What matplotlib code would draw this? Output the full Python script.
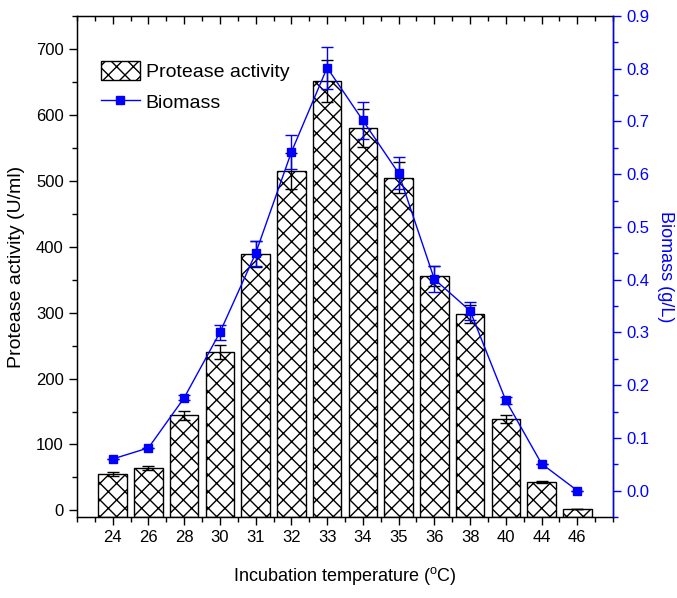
import matplotlib
matplotlib.use("Agg")
import matplotlib.pyplot as plt
import numpy as np
from matplotlib.lines import Line2D
from matplotlib.patches import Patch
from matplotlib.ticker import MultipleLocator

temps = ["24", "26", "28", "30", "31", "32", "33", "34", "35", "36", "38", "40", "44", "46"]
protease = [55, 65, 144, 240, 389, 515, 651, 580, 505, 355, 298, 138, 43, 2]
protease_err = [3, 3, 7, 11, 20, 27, 32, 29, 23, 15, 13, 6, 2, 0]
biomass = [0.060, 0.081, 0.176, 0.300, 0.450, 0.642, 0.802, 0.702, 0.602, 0.401, 0.341, 0.171, 0.051, 0.0]
biomass_err = [0.0, 0.0, 0.005, 0.014, 0.024, 0.032, 0.040, 0.035, 0.030, 0.024, 0.017, 0.006, 0.0, 0.0]

plt.rcParams["font.family"] = ["Liberation Sans Narrow", "Liberation Sans", "DejaVu Sans"]
plt.rcParams["mathtext.fontset"] = "custom"
plt.rcParams["mathtext.rm"] = "Liberation Sans"
plt.rcParams["hatch.linewidth"] = 1.0

BLUE = "#0000ff"
base = -10

fig = plt.figure(figsize=(6.77, 5.98), dpi=100)
ax = fig.add_axes([0.1137, 0.1355, 0.7918, 0.8377])
x = np.arange(1, len(temps) + 1)
heights = np.array(protease) - base
ax.bar(x, heights, width=0.8, bottom=base, color="white", edgecolor="black",
       hatch="xx", linewidth=1.0, zorder=2)
ax.errorbar(x, protease, yerr=protease_err, fmt="none", ecolor="black",
            elinewidth=1, capsize=4, capthick=1, zorder=3)
ax.set_xlim(0, 15)
ax.set_ylim(base, 750)
ax.set_xticks(x)
ax.set_xticklabels(temps)
ax.xaxis.set_minor_locator(MultipleLocator(0.5))
ax.yaxis.set_minor_locator(MultipleLocator(50))
ax.set_yticks(range(0, 701, 100))
ax.tick_params(axis="both", which="major", labelsize=12, length=6, width=1, direction="out")
ax.tick_params(axis="both", which="minor", length=3.5, width=1, direction="out")
ax.set_ylabel("Protease activity (U/ml)", fontsize=14, labelpad=8)
ax.set_xlabel(r"Incubation temperature ($^{\mathrm{o}}$C)", fontsize=13, labelpad=14)
for s in ax.spines.values():
    s.set_linewidth(1.0)

ax2 = ax.twinx()
ax2.errorbar(x, biomass, yerr=biomass_err, color=BLUE, ecolor=BLUE, marker="s",
             markersize=6, linewidth=1, elinewidth=1, capsize=4, capthick=1, zorder=4)
ax2.set_ylim(-0.05, 0.9)
ax2.yaxis.set_minor_locator(MultipleLocator(0.05))
ticks_r = np.round(np.arange(0, 0.91, 0.1), 1)
ax2.set_yticks(ticks_r)
ax2.set_yticklabels([f"{v:.1f}" for v in ticks_r])
ax2.tick_params(axis="y", which="major", labelsize=12, length=6, width=1, colors=BLUE)
ax2.tick_params(axis="y", which="minor", length=3.5, width=1, colors=BLUE)
ax2.spines["right"].set_color(BLUE)
ax2.spines["right"].set_linewidth(1.0)
ax2.set_ylabel("Biomass (g/L)", fontsize=13, color=BLUE, rotation=-90, labelpad=18)

# top ticks point inward
ax.tick_params(axis="x", which="both", top=True)
for t in ax.xaxis.get_major_ticks() + ax.xaxis.get_minor_ticks():
    t.tick2line.set_marker(3)

handles = [Patch(facecolor="white", edgecolor="black", hatch="xx", linewidth=1.0),
           Line2D([], [], color=BLUE, marker="s", markersize=6, linewidth=1)]
ax.legend(handles, ["Protease activity", "Biomass"], loc="upper left",
          bbox_to_anchor=(0.03, 0.925), frameon=False, fontsize=14,
          handlelength=2.0, handleheight=1.1, handletextpad=0.3, labelspacing=0.55,
          borderaxespad=0)

fig.savefig("out.png", dpi=100)
